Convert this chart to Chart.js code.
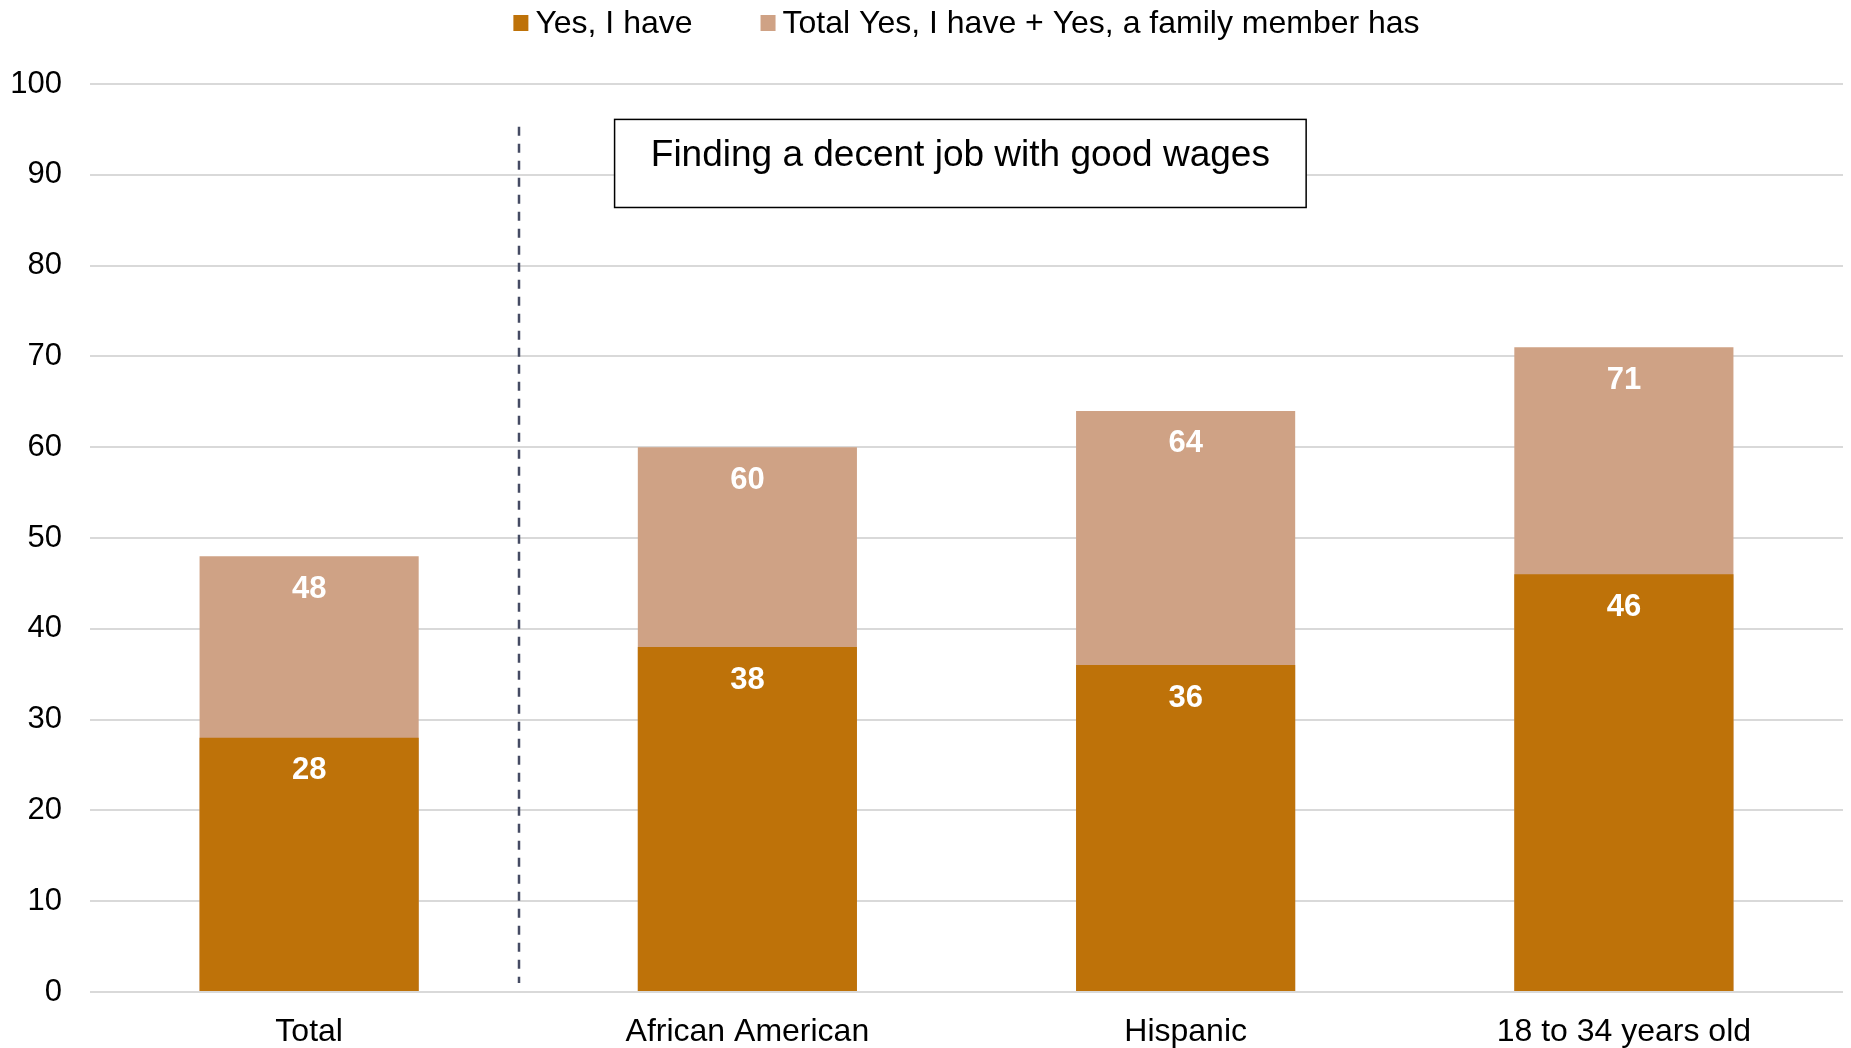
<!DOCTYPE html>
<html>
<head>
<meta charset="utf-8">
<title>Finding a decent job with good wages</title>
<script src="https://cdn.jsdelivr.net/npm/chart.js@4.4.1/dist/chart.umd.min.js"></script>
<style>
  html, body { margin: 0; padding: 0; background: #ffffff; }
  #wrap { width: 1851px; height: 1048px; position: relative; }
</style>
</head>
<body>
<div id="wrap"><canvas id="chart" width="1851" height="1048"></canvas></div>
<script>
// Groups shown along the x axis
const categories = ['Total', 'African American', 'Hispanic', '18 to 34 years old'];

// Share answering "Yes, I have"
const yesIHave = [28, 38, 36, 46];

// Share answering "Yes, I have" or "Yes, a family member has"
const yesTotal = [48, 60, 64, 71];

const seriesNames = ['Yes, I have', 'Total Yes, I have + Yes, a family member has'];
const yTicks = [0, 10, 20, 30, 40, 50, 60, 70, 80, 90, 100];
const panelTitle = 'Finding a decent job with good wages';

const DARK = '#BE7209';
const LIGHT = '#CFA285';
const FONT = '"Liberation Sans", Arial, Helvetica, sans-serif';

// Legend row across the top, centred over the plot area
const legendRow = {
  id: 'legendRow',
  afterDraw(chart) {
    const ctx = chart.ctx;
    const area = chart.chartArea;
    const items = chart.data.datasets.map(ds => ({ text: ds.label, color: ds.backgroundColor }));
    ctx.save();
    ctx.font = '32px ' + FONT;
    const box = 15, gapText = 7, gapItem = 68;
    const widths = items.map(it => box + gapText + ctx.measureText(it.text).width);
    const total = widths.reduce((a, b) => a + b, 0) + gapItem * (items.length - 1);
    let x = (area.left + area.right) / 2 - total / 2;
    const cy = 23;
    items.forEach((it, i) => {
      ctx.fillStyle = it.color;
      ctx.fillRect(x, cy - 8, box, 16);
      ctx.fillStyle = '#000000';
      ctx.textBaseline = 'middle';
      ctx.textAlign = 'left';
      ctx.fillText(it.text, x + box + gapText, cy + 1);
      x += widths[i] + gapItem;
    });
    ctx.restore();
  }
};

// Dashed divider after the "Total" group and the boxed panel title
const decorations = {
  id: 'decorations',
  afterDatasetsDraw(chart) {
    const ctx = chart.ctx;
    const xs = chart.scales.x, ys = chart.scales.y;
    ctx.save();
    // divider
    const dx = Math.round(xs.getPixelForValue(0.48));
    ctx.strokeStyle = '#454B63';
    ctx.lineWidth = 2.5;
    ctx.setLineDash([9, 8]);
    ctx.beginPath();
    ctx.moveTo(dx, ys.getPixelForValue(95.3));
    ctx.lineTo(dx, ys.getPixelForValue(1.0));
    ctx.stroke();
    ctx.setLineDash([]);
    // title box
    const bx1 = xs.getPixelForValue(0.697), bx2 = xs.getPixelForValue(2.275);
    const by1 = ys.getPixelForValue(96.1), by2 = ys.getPixelForValue(86.4);
    ctx.fillStyle = '#ffffff';
    ctx.fillRect(bx1, by1, bx2 - bx1, by2 - by1);
    ctx.strokeStyle = '#000000';
    ctx.lineWidth = 1.5;
    ctx.strokeRect(bx1, by1, bx2 - bx1, by2 - by1);
    ctx.fillStyle = '#000000';
    ctx.font = '37px ' + FONT;
    ctx.textAlign = 'center';
    ctx.textBaseline = 'alphabetic';
    ctx.fillText(panelTitle, (bx1 + bx2) / 2, by1 + 47);
    ctx.restore();
  }
};

// White value labels just inside the top of each bar
const valueLabels = {
  id: 'valueLabels',
  afterDatasetsDraw(chart) {
    const ctx = chart.ctx;
    ctx.save();
    ctx.font = 'bold 31px ' + FONT;
    ctx.fillStyle = '#ffffff';
    ctx.textAlign = 'center';
    ctx.textBaseline = 'middle';
    chart.data.datasets.forEach((ds, di) => {
      const meta = chart.getDatasetMeta(di);
      meta.data.forEach((el, i) => {
        ctx.fillText(String(ds.data[i]), el.x, el.y + 33);
      });
    });
    ctx.restore();
  }
};

new Chart(document.getElementById('chart'), {
  type: 'bar',
  data: {
    labels: categories,
    datasets: [
      {
        label: seriesNames[0],
        data: yesIHave,
        backgroundColor: DARK,
        grouped: false,
        barPercentage: 0.5,
        categoryPercentage: 1.0
      },
      {
        label: seriesNames[1],
        data: yesTotal,
        backgroundColor: LIGHT,
        grouped: false,
        barPercentage: 0.5,
        categoryPercentage: 1.0
      }
    ]
  },
  options: {
    responsive: false,
    animation: false,
    devicePixelRatio: 1,
    layout: { padding: { top: 84, right: 8, left: 0, bottom: 0 } },
    plugins: {
      legend: { display: false },
      tooltip: { enabled: false }
    },
    scales: {
      x: {
        grid: { display: false, drawTicks: false },
        border: { display: false },
        ticks: {
          color: '#000000',
          font: { family: FONT, size: 32 },
          padding: 21,
          maxRotation: 0
        },
        afterFit(scale) { scale.height = 56; }
      },
      y: {
        min: 0,
        max: 100,
        afterBuildTicks(scale) { scale.ticks = yTicks.map(v => ({ value: v })); },
        grid: { color: '#D9D9D9', lineWidth: 2, drawTicks: false },
        border: { display: false },
        ticks: {
          color: '#000000',
          font: { family: FONT, size: 31 },
          padding: 28
        },
        afterFit(scale) { scale.width = 90; }
      }
    }
  },
  plugins: [legendRow, decorations, valueLabels]
});
</script>
</body>
</html>
